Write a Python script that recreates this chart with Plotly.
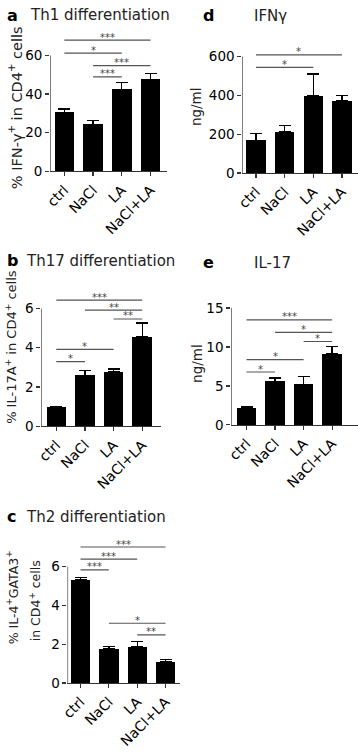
import plotly.graph_objects as go

W, H = 358, 754
FONT = "DejaVu Sans"

categories = ["ctrl", "NaCl", "LA", "NaCl+LA"]

# Panel a: Th1 differentiation (% IFN-γ+ in CD4+ cells)
a_values = [30.6, 24.3, 42.5, 47.6]
a_err = [1.7, 1.9, 3.4, 2.9]
a_sig = [(0, 3, 67.9, "***"), (0, 2, 61.2, "*"), (1, 3, 54.7, "***"), (1, 2, 48.9, "***")]
a_ticks = [0, 20, 40, 60]

# Panel b: Th17 differentiation (% IL-17A+ in CD4+ cells)
b_values = [0.97, 2.59, 2.76, 4.55]
b_err = [0.04, 0.23, 0.16, 0.70]
b_sig = [(0, 3, 6.42, "***"), (1, 3, 5.91, "**"), (2, 3, 5.46, "**"), (0, 2, 3.91, "*"), (0, 1, 3.29, "*")]
b_ticks = [0, 2, 4, 6]

# Panel c: Th2 differentiation (% IL-4+GATA3+ in CD4+ cells)
c_values = [5.32, 1.77, 1.88, 1.10]
c_err = [0.12, 0.10, 0.25, 0.13]
c_sig = [(0, 3, 7.01, "***"), (0, 2, 6.39, "***"), (0, 1, 5.83, "***"), (1, 3, 3.08, "*"), (2, 3, 2.48, "**")]
c_ticks = [0, 2, 4, 6]

# Panel d: IFNγ (ng/ml)
d_values = [168, 211, 397, 370]
d_err = [35, 34, 113, 30]
d_sig = [(0, 3, 608, "*"), (0, 2, 544, "*")]
d_ticks = [0, 200, 400, 600]

# Panel e: IL-17 (ng/ml)
e_values = [2.15, 5.61, 5.23, 9.15]
e_err = [0.15, 0.42, 0.96, 0.89]
e_sig = [(0, 3, 13.49, "***"), (1, 3, 11.88, "*"), (2, 3, 10.71, "*"), (0, 2, 8.39, "*"), (0, 1, 6.79, "*")]
e_ticks = [0, 5, 10, 15]

# pixel geometry for each panel: axis x start/end, first bar centre, spacing,
# pixel of y=0, pixel of top tick
panels = [
    dict(vals=a_values, err=a_err, sig=a_sig, ticks=a_ticks,
         ax0=44, ax1=163, c0=58.5, s=29.3, p0=170, pt=52.3,
         letter="a", title="Th1 differentiation", lx=-2, tx=21, ty=11.3),
    dict(vals=b_values, err=b_err, sig=b_sig, ticks=b_ticks,
         ax0=35, ax1=157, c0=50.3, s=29.2, p0=429, pt=309.3,
         letter="b", title="Th17 differentiation", lx=-2, tx=17, ty=261),
    dict(vals=c_values, err=c_err, sig=c_sig, ticks=c_ticks,
         ax0=61.7, ax1=176, c0=75, s=28.9, p0=690, pt=571.7,
         letter="c", title="Th2 differentiation", lx=-2, tx=17, ty=521),
    dict(vals=d_values, err=d_err, sig=d_sig, ticks=d_ticks,
         ax0=240, ax1=358, c0=254, s=29.2, p0=171.7, pt=53.3,
         letter="d", title="IFNγ", lx=198, tx=249.5, ty=11.7),
    dict(vals=e_values, err=e_err, sig=e_sig, ticks=e_ticks,
         ax0=228.7, ax1=358, c0=244.3, s=29.1, p0=427.7, pt=309,
         letter="e", title="IL-17", lx=198, tx=250, ty=262.7),
]

# rotated y-axis labels: centre x, centre y, text, font size
ylabels = [
    (9, 105, "% IFN-γ<sup>+</sup> in CD4<sup>+</sup> cells", 14.5),
    (4.5, 348, "% IL-17A<sup>+</sup> in CD4<sup>+</sup> cells", 13),
    (6, 603, "% IL-4<sup>+</sup>GATA3<sup>+</sup>", 12.5),
    (28.5, 606, "in CD4<sup>+</sup> cells", 12.5),
    (193.5, 104, "ng/ml", 13.5),
    (193.5, 365, "ng/ml", 13.5),
]

fig = go.Figure()
layout = dict(width=W, height=H, margin=dict(l=0, r=0, t=0, b=0), autosize=False,
              paper_bgcolor="white", plot_bgcolor="white", showlegend=False,
              font=dict(family=FONT, color="black"), bargap=0)
annotations = []
shapes = []
AXC = "#333333"

for k, p in enumerate(panels, start=1):
    xa = "x" if k == 1 else f"x{k}"
    ya = "y" if k == 1 else f"y{k}"
    xs = list(range(len(categories)))
    T = p["ticks"][-1]
    ppu = (p["p0"] - p["pt"]) / T
    ymax = max(T, max(h for _, _, h, _ in p["sig"])) * 1.035
    top_px = p["p0"] - ymax * ppu
    r0 = (p["ax0"] - p["c0"]) / p["s"]
    r1 = (p["ax1"] - p["c0"]) / p["s"]

    fig.add_trace(go.Bar(
        x=xs, y=p["vals"], width=0.68, xaxis=xa, yaxis=ya,
        marker=dict(color="black", line=dict(width=0)),
        error_y=dict(type="data", symmetric=False, array=p["err"],
                     arrayminus=[0] * len(p["err"]), color="black",
                     thickness=1.3, width=6),
    ))
    lx, ly = [], []
    for i, j, h, lab in p["sig"]:
        lx += [i, j, None]
        ly += [h, h, None]
        annotations.append(dict(x=(i + j) / 2, y=h, xref=xa, yref=ya, text=lab,
                                showarrow=False, yanchor="middle", yshift=3,
                                font=dict(family=FONT, size=10, color="#444")))
    fig.add_trace(go.Scatter(x=lx, y=ly, mode="lines", xaxis=xa, yaxis=ya,
                             line=dict(color="#555555", width=1.2),
                             hoverinfo="skip"))

    xkey = "xaxis" if k == 1 else f"xaxis{k}"
    ykey = "yaxis" if k == 1 else f"yaxis{k}"
    layout[xkey] = dict(domain=[p["ax0"] / W, p["ax1"] / W], range=[r0, r1],
                        anchor=ya, tickmode="array", tickvals=xs, ticktext=categories,
                        tickangle=-45, ticks="outside", ticklen=4, tickwidth=1.2,
                        tickcolor=AXC, showline=True, linecolor=AXC, linewidth=1.2,
                        showgrid=False, zeroline=False, fixedrange=True,
                        tickfont=dict(family=FONT, size=14, color="black"))
    layout[ykey] = dict(domain=[1 - p["p0"] / H, 1 - top_px / H], range=[0, ymax],
                        anchor=xa, tickmode="array", tickvals=p["ticks"],
                        ticks="outside", ticklen=4, tickwidth=1.2, tickcolor=AXC,
                        showline=False, showgrid=False, zeroline=False, fixedrange=True,
                        tickfont=dict(family=FONT, size=13.5, color="black"))
    shapes.append(dict(type="line", xref=xa, yref=ya, x0=r0, x1=r0, y0=0, y1=T,
                       line=dict(color=AXC, width=1.2)))

    annotations.append(dict(x=max(p["lx"], 0) / W, y=1 - p["ty"] / H, xref="paper", yref="paper",
                            text=f"<b>{p['letter']}</b>", showarrow=False,
                            xanchor="left", yanchor="middle",
                            xshift=min(p["lx"], 0),
                            font=dict(family=FONT, size=16, color="black")))
    annotations.append(dict(x=p["tx"] / W, y=1 - p["ty"] / H, xref="paper", yref="paper",
                            text=p["title"], showarrow=False,
                            xanchor="left", yanchor="middle",
                            font=dict(family=FONT, size=15, color="#222")))

for x, y, t, fs in ylabels:
    annotations.append(dict(x=x / W, y=1 - y / H, xref="paper", yref="paper", text=t,
                            showarrow=False, textangle=-90, xanchor="center",
                            yanchor="middle", font=dict(family=FONT, size=fs, color="#222")))

layout["annotations"] = annotations
layout["shapes"] = shapes
fig.update_layout(**layout)
fig.write_html("out.html", config={"staticPlot": True},
               post_script="document.body.style.margin='0';document.body.style.padding='0';")
